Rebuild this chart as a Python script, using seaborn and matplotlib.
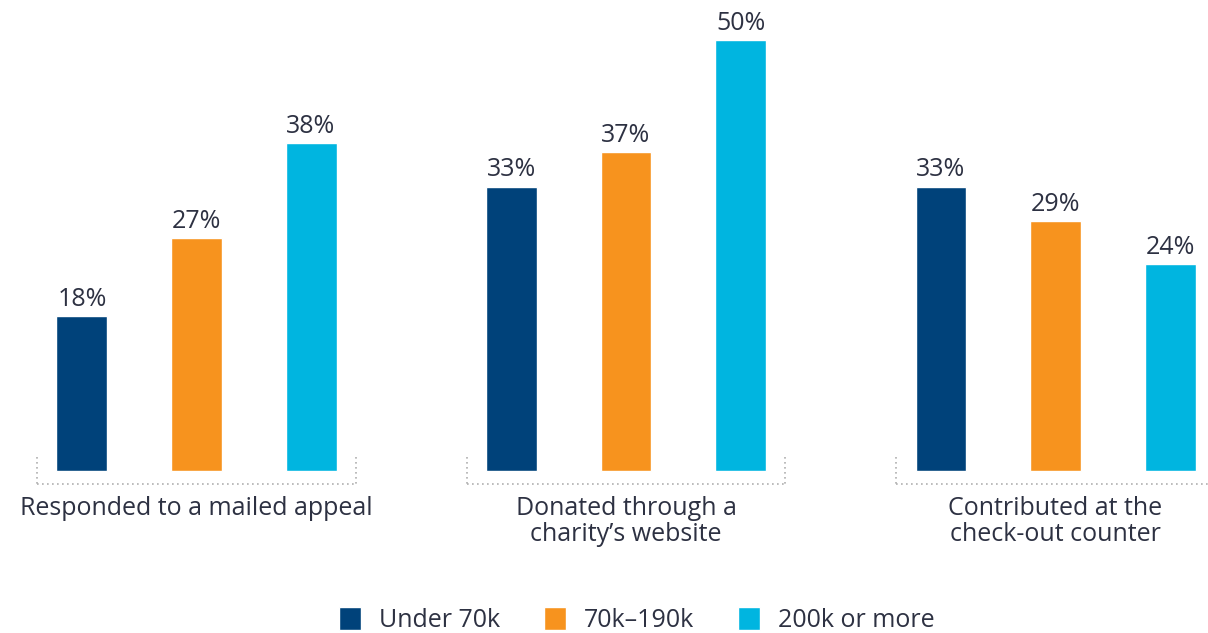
import matplotlib
matplotlib.use("Agg")
import matplotlib.pyplot as plt
import seaborn as sns
import pandas as pd

categories = ["Responded to a mailed appeal", "Donated through a\ncharity\u2019s website", "Contributed at the\ncheck-out counter"]
groups = ["Under 70k", "70k\u2013190k", "200k or more"]
under_70k = [18, 33, 33]
mid_70_190k = [27, 37, 29]
over_200k = [38, 50, 24]
colors = ["#00427a", "#f7931e", "#00b5e0"]

rows = []
for g, vals in zip(groups, [under_70k, mid_70_190k, over_200k]):
    for c, v in zip(categories, vals):
        rows.append({"category": c, "group": g, "value": v})
df = pd.DataFrame(rows)

sns.set_theme(style="white")
plt.rcParams['font.family'] = ['Open Sans', 'DejaVu Sans']
TXT = "#2d3142"
FS = 18

fig = plt.figure(figsize=(12.08, 6.33), dpi=100)
ax = fig.add_axes([0, 0, 1, 1])
sns.barplot(data=df, x="category", y="value", hue="group", order=categories,
            hue_order=groups, palette=colors, width=0.8, gap=0.555,
            saturation=1, ax=ax, legend=True)

ax.set_xlim(-0.4575, 2.355)
ax.set_ylim(-18.79, 54.64)
ax.axis("off")

for cont in ax.containers:
    ax.bar_label(cont, labels=[f"{int(v)}%" for v in cont.datavalues],
                 padding=3, fontsize=FS, color=TXT)

for i, cat in enumerate(categories):
    x0, x1 = i - 0.371, i + 0.371
    ax.plot([x0, x1], [-1.51, -1.51], ls=(0, (1, 2)), color="#b0b0b0", lw=1.2, clip_on=False)
    ax.plot([x0, x0], [1.6, -1.51], ls=(0, (1, 2)), color="#b0b0b0", lw=1.2)
    ax.plot([x1, x1], [1.6, -1.51], ls=(0, (1, 2)), color="#b0b0b0", lw=1.2)
    ax.text(i, -2.9, cat, ha="center", va="top", fontsize=FS, color=TXT, linespacing=1.03)

handles, labels = ax.get_legend_handles_labels()
ax.legend(handles, labels, loc="center", bbox_to_anchor=(0.527, 0.02), ncol=3,
          frameon=False, fontsize=FS, handlelength=0.9, handleheight=1.0,
          handletextpad=0.7, columnspacing=1.75, labelcolor=TXT)

fig.savefig("out.png", dpi=100)
